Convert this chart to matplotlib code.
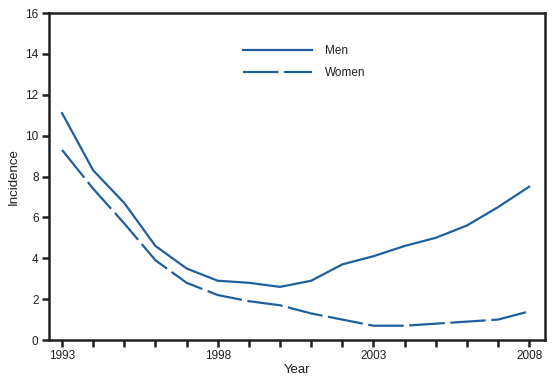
import matplotlib
matplotlib.use('Agg')
import matplotlib.pyplot as plt

plt.rcParams['font.family'] = ['Liberation Sans', 'DejaVu Sans']

years = list(range(1993, 2009))
men = [11.1, 8.3, 6.7, 4.6, 3.5, 2.9, 2.8, 2.6, 2.9, 3.7, 4.1, 4.6, 5.0, 5.6, 6.5, 7.5]
women = [9.3, 7.4, 5.7, 3.9, 2.8, 2.2, 1.9, 1.7, 1.3, 1.0, 0.7, 0.7, 0.8, 0.9, 1.0, 1.4]
xlabels = [1993, 1998, 2003, 2008]

blue = '#1f5f9e'
dark = '#231f20'

fig = plt.figure(figsize=(5.53, 3.76), dpi=100)
ax = fig.add_axes([0.0886, 0.0957, 0.8969, 0.8697])

ax.plot(years, men, color=blue, lw=1.6, label='Men')
ax.plot(years, women, color=blue, lw=1.6, dashes=(16, 2.5), label='Women')

ax.set_xlim(1992.58, 2008.51)
ax.set_ylim(0, 16)
ax.set_xticks(years)
ax.set_xticklabels([str(y) if y in xlabels else '' for y in years])
ax.set_yticks(range(0, 17, 2))

for s in ax.spines.values():
    s.set_color(dark)
    s.set_linewidth(1.8)
ax.tick_params(axis='both', direction='out', color=dark, width=1.8, length=5,
               labelsize=8.5, labelcolor=dark, pad=2.5)

ax.set_xlabel('Year', fontsize=9.5, color=dark, labelpad=1)
ax.set_ylabel('Incidence', fontsize=9.5, color=dark, labelpad=4)

ax.legend(loc='upper left', bbox_to_anchor=(0.37, 0.935), frameon=False,
          fontsize=8.5, handlelength=5.8, handletextpad=1.1, labelspacing=0.85,
          labelcolor=dark)

fig.savefig('out.png', dpi=100)
